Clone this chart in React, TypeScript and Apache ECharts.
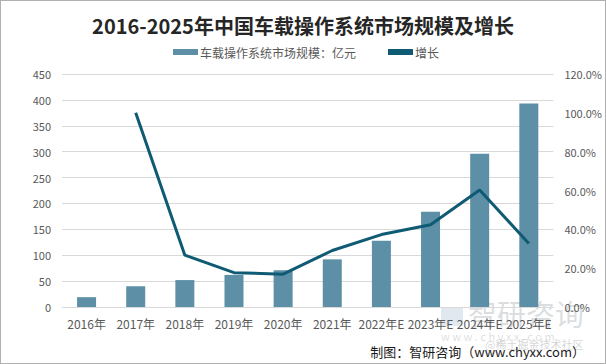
import React, { useEffect, useRef } from "react";
import * as echarts from "echarts";

const categories = ["2016年", "2017年", "2018年", "2019年", "2020年", "2021年", "2022年E", "2023年E", "2024年E", "2025年E"];
const marketSize = [19, 40, 52, 62, 71, 92, 128, 184, 296, 393];
const growth = [null, 100.0, 26.7, 17.7, 16.9, 29.1, 37.3, 42.4, 60.3, 32.7];
const leftTicks = [0, 450, 50];
const rightTicks = [0, 120, 20];

const BAR_COLOR = "#5d8fa6";
const LINE_COLOR = "#0e5b73";

export default function App() {
  const ref = useRef<HTMLDivElement>(null);
  useEffect(() => {
    document.body.style.margin = "0";
    const chart = echarts.init(ref.current!, null, { renderer: "svg" });
    chart.setOption({
      animation: false,
      backgroundColor: "#ffffff",
      title: {
        text: "2016-2025年中国车载操作系统市场规模及增长",
        left: "center",
        top: 9,
        textStyle: { fontFamily: "Noto Sans CJK SC", fontSize: 20, fontWeight: "bold", color: "#262626" },
      },
      legend: {
        left: 167,
        top: 40,
        itemWidth: 25,
        itemHeight: 6,
        itemGap: 32,
        textStyle: { fontFamily: "Noto Sans CJK SC", fontSize: 12, color: "#595959", padding: [0, 0, 0, -3] },
        data: [
          { name: "车载操作系统市场规模：亿元", icon: "rect", itemStyle: { color: BAR_COLOR } },
          { name: "增长", icon: "rect", itemStyle: { color: LINE_COLOR } },
        ],
      },
      grid: { left: 61, right: 50, top: 73, bottom: 56 },
      xAxis: {
        type: "category",
        data: categories,
        axisLine: { lineStyle: { color: "#d9d9d9" } },
        axisTick: { show: false },
        axisLabel: { color: "#595959", fontSize: 12, margin: 10, fontFamily: "Noto Sans CJK SC", interval: 0 },
      },
      yAxis: [
        {
          type: "value",
          min: leftTicks[0],
          max: leftTicks[1],
          interval: leftTicks[2],
          axisLine: { show: false },
          axisTick: { show: false },
          splitLine: { lineStyle: { color: "#d9d9d9" } },
          axisLabel: { color: "#595959", fontSize: 11, margin: 11, fontFamily: "Noto Sans CJK SC" },
        },
        {
          type: "value",
          min: rightTicks[0],
          max: rightTicks[1],
          interval: rightTicks[2],
          axisLine: { show: false },
          axisTick: { show: false },
          splitLine: { show: false },
          axisLabel: {
            color: "#595959",
            fontSize: 11,
            margin: 11,
            fontFamily: "Noto Sans CJK SC",
            formatter: (v: number) => v.toFixed(1) + "%",
          },
        },
      ],
      series: [
        {
          name: "车载操作系统市场规模：亿元",
          type: "bar",
          data: marketSize,
          barWidth: 19,
          itemStyle: { color: BAR_COLOR },
        },
        {
          name: "增长",
          type: "line",
          yAxisIndex: 1,
          data: growth,
          symbol: "none",
          lineStyle: { color: LINE_COLOR, width: 3 },
          itemStyle: { color: LINE_COLOR },
        },
      ],
      graphic: [
        {
          type: "rect",
          left: 440,
          top: 306,
          silent: true,
          shape: { width: 22, height: 19 },
          style: { fill: "rgba(120,150,180,0.22)" },
        },
        {
          type: "text",
          left: 467,
          top: 297,
          silent: true,
          style: { text: "智研咨询", fontSize: 29, fontFamily: "Noto Sans CJK SC", fill: "rgba(140,150,160,0.33)" },
        },
        {
          type: "text",
          left: 440,
          top: 329,
          silent: true,
          style: { text: "w w w . c h y x x . c o m", fontSize: 11, fontFamily: "Noto Sans CJK SC", fill: "rgba(140,150,160,0.33)" },
        },
        {
          type: "text",
          left: 484,
          top: 337,
          silent: true,
          style: { text: "@稀土掘金技术社区", fontSize: 11, fontFamily: "Noto Sans CJK SC", fill: "rgba(120,120,120,0.33)" },
        },
        {
          type: "text",
          right: 20,
          top: 344,
          silent: true,
          style: { text: "制图：智研咨询（www.chyxx.com）", fontSize: 13, fontFamily: "Noto Sans CJK SC", fill: "#1a1a1a" },
        },
      ],
    });
    return () => chart.dispose();
  }, []);
  return (
    <div
      ref={ref}
      style={{ position: "fixed", left: 0, top: 0, width: 606, height: 364, boxSizing: "border-box", border: "1px solid #b0b0b0" }}
    />
  );
}
